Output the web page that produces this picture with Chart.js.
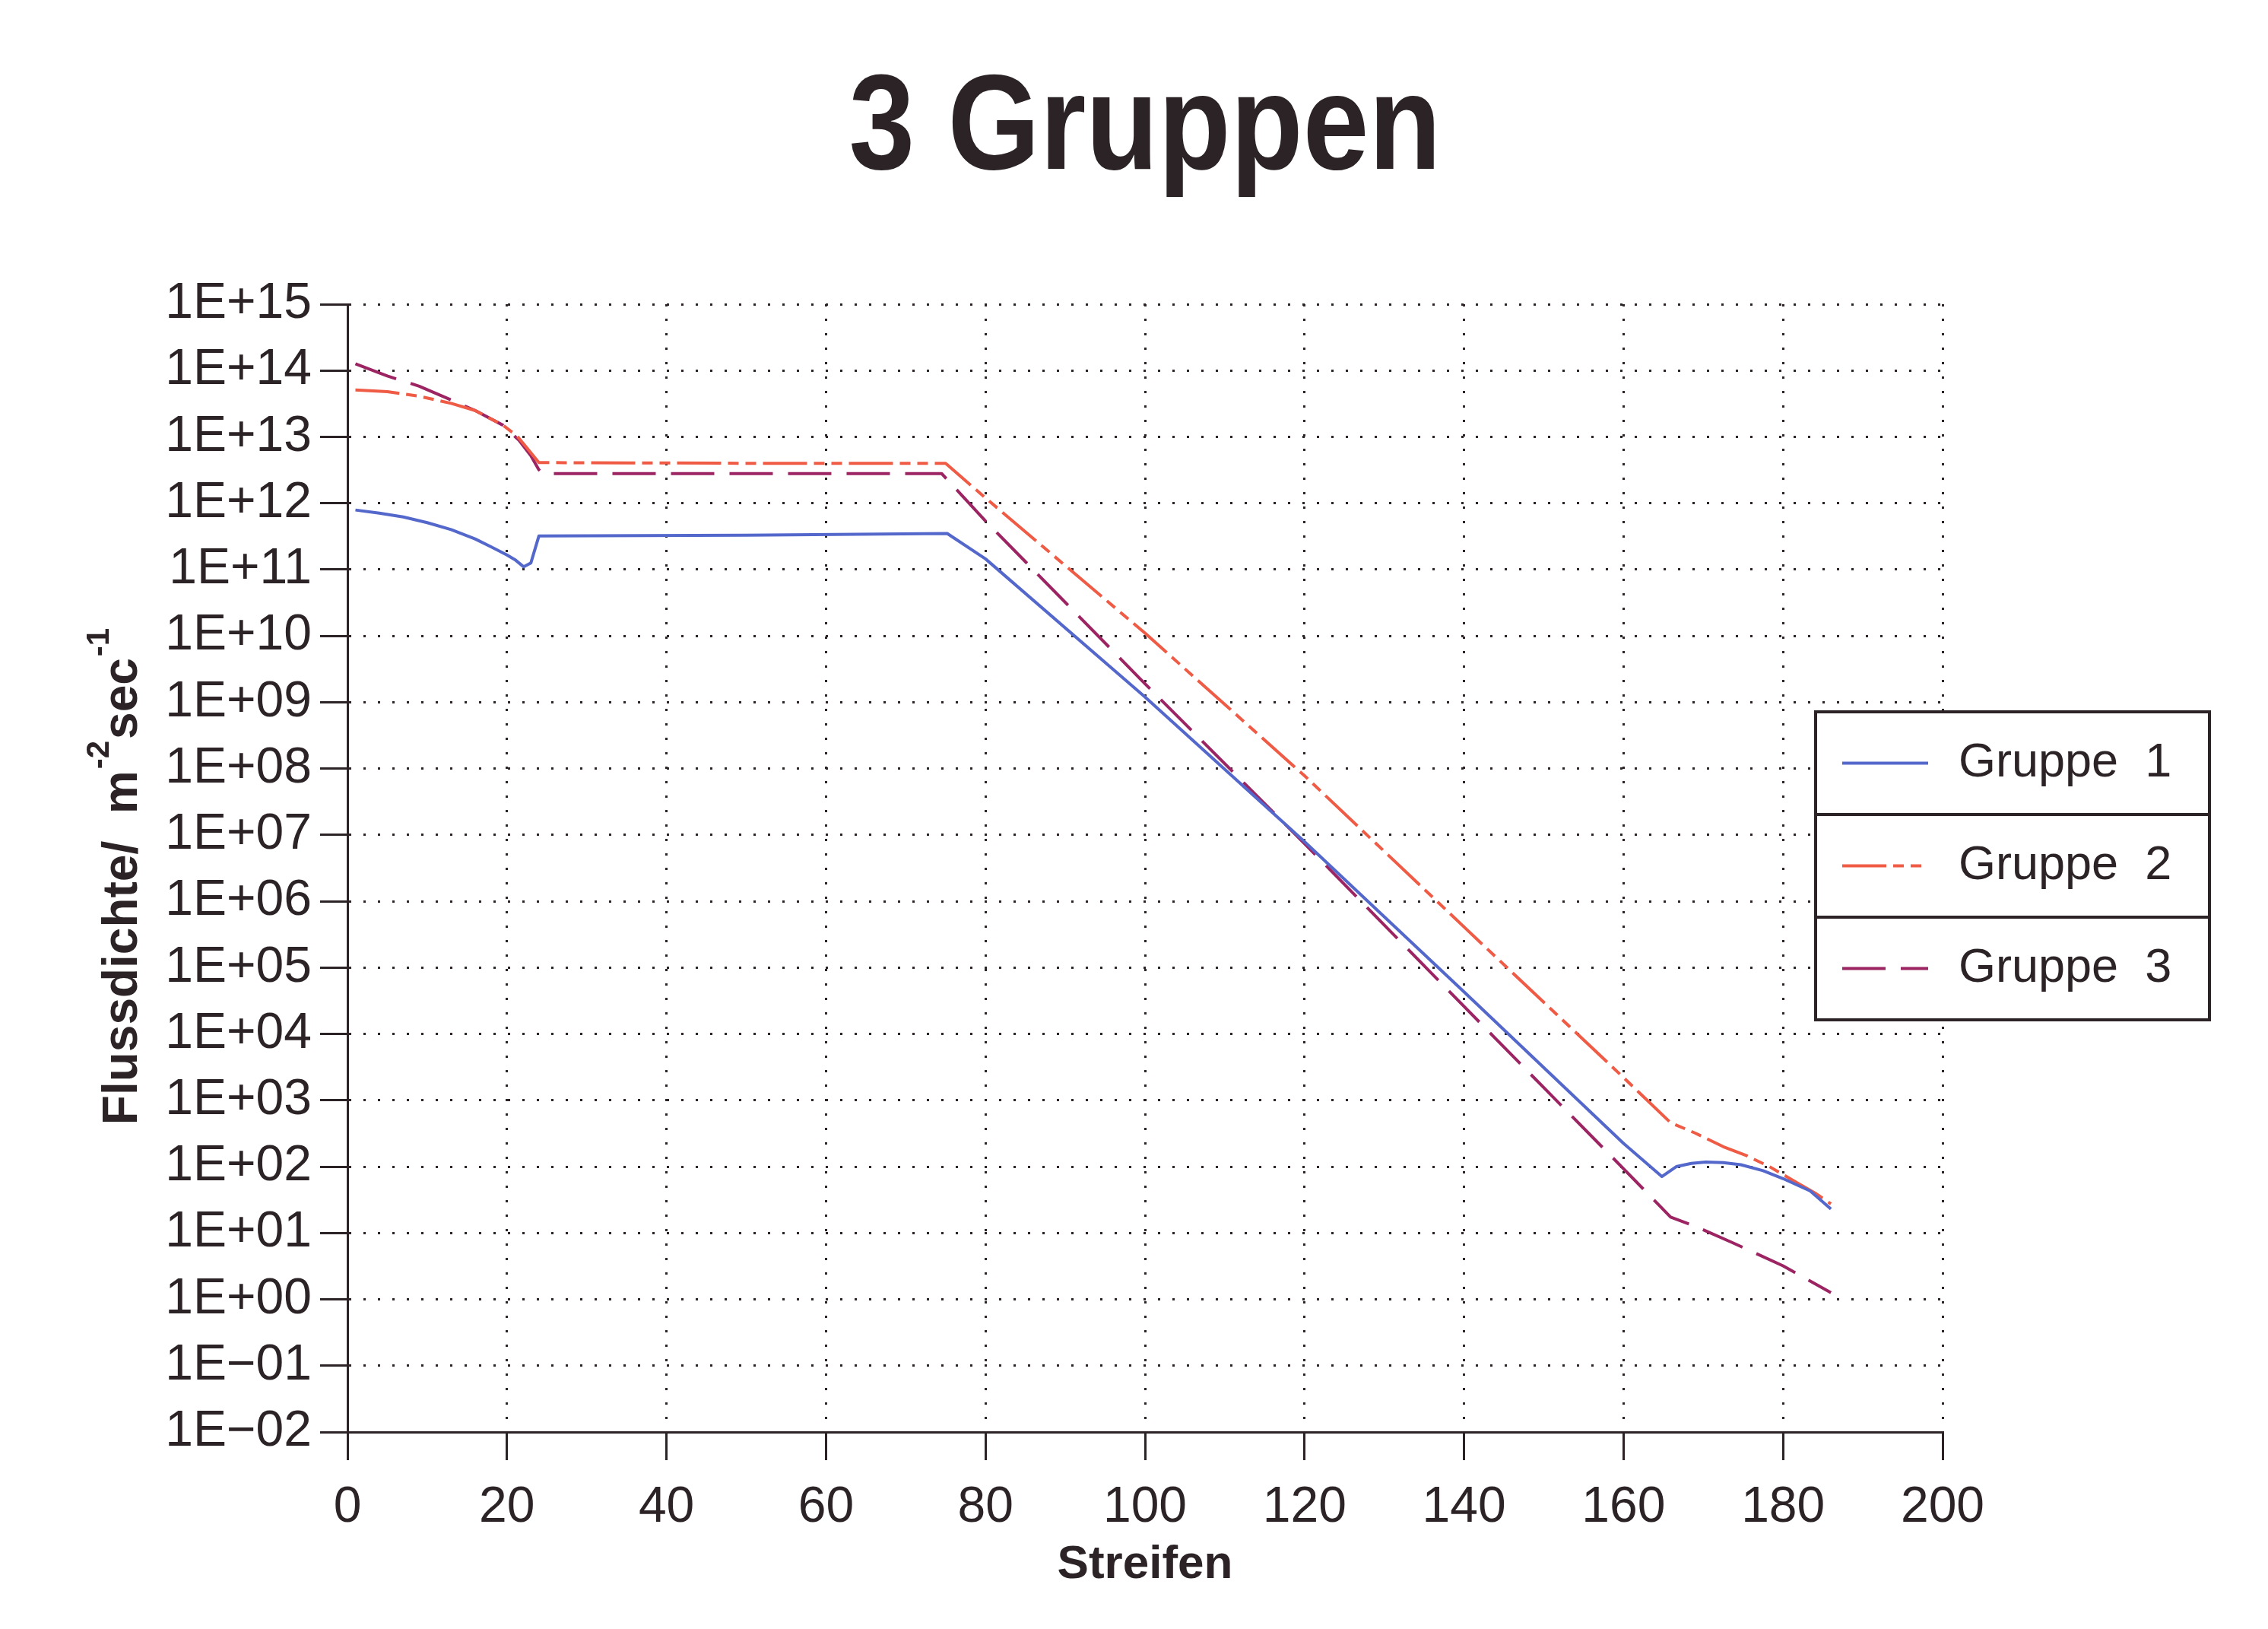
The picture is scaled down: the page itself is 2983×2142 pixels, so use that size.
<!DOCTYPE html>
<html>
<head>
<meta charset="utf-8">
<title>3 Gruppen</title>
<script src="https://cdn.jsdelivr.net/npm/chart.js@4.4.1/dist/chart.umd.min.js"></script>
<style>
  html, body { margin: 0; padding: 0; background: #fff; }
  #chart { display: block; }
</style>
</head>
<body>
<canvas id="chart" width="2983" height="2142"></canvas>
<script>
// values (Streifen on x, Flussdichte in m^-2 sec^-1 on y)
const g1Streifen = [1, 4, 7, 10, 13, 16, 18, 20, 21, 22.1, 23, 24, 50, 75.2, 80, 100, 120, 140, 160, 164.8, 166.6, 168.5, 170.3, 172.5, 174.7, 177.5, 180, 183.4, 186]
const g1Fluss = [7.9e11, 7.1e11, 6.2e11, 5.1e11, 4.0e11, 2.9e11, 2.2e11, 1.66e11, 1.41e11, 1.1e11, 1.26e11, 3.2e11, 3.3e11, 3.5e11, 1.45e11, 1.2e9, 7.9e6, 4.3e4, 224, 71, 100, 112, 117, 115, 107, 87, 66, 43, 23]

const g2Streifen = [1, 5, 9, 13, 16, 19.5, 21.3, 22.6, 24, 50, 75, 80, 100, 120, 140, 160, 165.9, 169, 172.5, 175.5, 178.3, 182, 184, 186]
const g2Fluss = [5.1e13, 4.8e13, 4.1e13, 3.2e13, 2.5e13, 1.5e13, 1.02e13, 6.6e12, 4.1e12, 4.0e12, 4.0e12, 1.2e12, 1.1e10, 7.8e7, 4.1e5, 2.2e3, 460, 320, 200, 145, 100, 55, 40, 27.5]

const g3Streifen = [1, 5, 9, 13, 16, 19.5, 21.5, 23, 24, 24.5, 74.5, 80, 100, 120, 140, 150, 160, 165.9, 168.8, 173.6, 180, 186]
const g3Fluss = [1.26e14, 8.3e13, 5.8e13, 3.6e13, 2.5e13, 1.5e13, 8.9e12, 5.2e12, 3.2e12, 2.8e12, 2.8e12, 5.4e11, 1.9e9, 7.4e6, 2.6e4, 1.55e3, 93, 17.4, 12.9, 7.2, 3.2, 1.26]

const seriesNames = ["Gruppe  1", "Gruppe  2", "Gruppe  3"]
const xTicks = [0, 20, 40, 60, 80, 100, 120, 140, 160, 180, 200]
const yTickValues = [1e-2, 1e-1, 1e0, 1e1, 1e2, 1e3, 1e4, 1e5, 1e6, 1e7, 1e8, 1e9, 1e10, 1e11, 1e12, 1e13, 1e14, 1e15]
const yTickLabels = ["1E\u221202", "1E\u221201", "1E+00", "1E+01", "1E+02", "1E+03", "1E+04", "1E+05", "1E+06", "1E+07", "1E+08", "1E+09", "1E+10", "1E+11", "1E+12", "1E+13", "1E+14", "1E+15"]

// y axis title in pieces: [text, is superscript]
const yTitleParts = [["Flussdichte/  m", false], ["-2", true], ["sec", false], ["-1", true]]

const ink = "#2b2326"
const font = '"Liberation Sans", Arial, sans-serif'

const toPoints = (xs, ys) => xs.map((x, i) => ({ x: x, y: ys[i] }))

// title, y title with real superscripts and the boxed legend
const decor = {
  id: "decor",
  afterDraw(chart) {
    const { ctx, chartArea } = chart
    ctx.save()
    ctx.fillStyle = ink
    ctx.font = "bold 178px " + font
    ctx.textAlign = "center"
    ctx.textBaseline = "alphabetic"
    ctx.translate((chartArea.left + chartArea.right) / 2, 222)
    ctx.scale(0.875, 1)
    ctx.fillText("3 Gruppen", 0, 0)
    ctx.restore()

    // rotated y title
    ctx.save()
    ctx.fillStyle = ink
    ctx.textBaseline = "alphabetic"
    ctx.textAlign = "left"
    const mainFont = "bold 64px " + font
    const supFont = "bold 42px " + font
    let total = 0
    yTitleParts.forEach(([t, sup]) => {
      ctx.font = sup ? supFont : mainFont
      total += ctx.measureText(t).width + (sup ? 4 : 0)
    })
    ctx.translate(159, (chartArea.top + chartArea.bottom) / 2 + 10)
    ctx.rotate(-Math.PI / 2)
    let px = -total / 2
    yTitleParts.forEach(([t, sup]) => {
      ctx.font = sup ? supFont : mainFont
      ctx.fillText(t, px + (sup ? 2 : 0), sup ? -16 : 21)
      px += ctx.measureText(t).width + (sup ? 4 : 0)
    })
    ctx.restore()

    const x0 = chartArea.right - 167
    const y0 = chartArea.top + 536
    const w = 518
    const rowH = 135
    ctx.save()
    ctx.fillStyle = "#fff"
    ctx.fillRect(x0, y0, w, rowH * 3)
    ctx.strokeStyle = ink
    ctx.lineWidth = 4
    ctx.strokeRect(x0, y0, w, rowH * 3)
    chart.data.datasets.forEach((ds, i) => {
      const yc = y0 + rowH * i + rowH / 2
      if (i > 0) {
        ctx.strokeStyle = ink
        ctx.lineWidth = 4
        ctx.setLineDash([])
        ctx.beginPath()
        ctx.moveTo(x0, y0 + rowH * i)
        ctx.lineTo(x0 + w, y0 + rowH * i)
        ctx.stroke()
      }
      ctx.strokeStyle = ds.borderColor
      ctx.lineWidth = ds.borderWidth
      ctx.setLineDash(ds.borderDash || [])
      ctx.beginPath()
      ctx.moveTo(x0 + 35, yc)
      ctx.lineTo(x0 + 148, yc)
      ctx.stroke()
      ctx.setLineDash([])
      ctx.fillStyle = ink
      ctx.font = "63px " + font
      ctx.textAlign = "left"
      ctx.textBaseline = "middle"
      ctx.fillText(ds.label, x0 + 188, yc)
    })
    ctx.restore()
  }
}

const chart = new Chart(document.getElementById("chart"), {
  type: "line",
  data: {
    datasets: [
      {
        label: seriesNames[0],
        data: toPoints(g1Streifen, g1Fluss),
        borderColor: "#5468cc",
        borderWidth: 4,
        borderDash: []
      },
      {
        label: seriesNames[1],
        data: toPoints(g2Streifen, g2Fluss),
        borderColor: "#ef5b45",
        borderWidth: 4,
        borderDash: [58, 9, 14, 9, 14, 9]
      },
      {
        label: seriesNames[2],
        data: toPoints(g3Streifen, g3Fluss),
        borderColor: "#9c2463",
        borderWidth: 4,
        borderDash: [57, 20]
      }
    ]
  },
  options: {
    responsive: false,
    animation: false,
    events: [],
    layout: { padding: { top: 400, right: 428, bottom: 0, left: 0 } },
    elements: {
      point: { radius: 0 },
      line: { tension: 0, fill: false, borderJoinStyle: "round" }
    },
    plugins: {
      legend: { display: false },
      title: { display: false },
      tooltip: { enabled: false }
    },
    scales: {
      x: {
        type: "linear",
        min: 0,
        max: 200,
        afterBuildTicks: (scale) => { scale.ticks = xTicks.map(v => ({ value: v })) },
        afterFit: (scale) => { scale.height = 259 },
        ticks: {
          color: ink,
          font: { family: font, size: 66 },
          padding: 23,
          maxRotation: 0,
          autoSkip: false
        },
        grid: {
          color: ink,
          lineWidth: 3,
          tickLength: 37,
          tickWidth: 3,
          tickColor: ink
        },
        border: { display: true, color: ink, width: 3, dash: [3, 16] },
        title: {
          display: true,
          text: "Streifen",
          color: ink,
          font: { family: font, size: 62, weight: "bold" },
          padding: { top: 0, bottom: 47 }
        }
      },
      y: {
        type: "logarithmic",
        min: 1e-2,
        max: 1e15,
        afterBuildTicks: (scale) => { scale.ticks = yTickValues.map(v => ({ value: v })) },
        afterFit: (scale) => { scale.width = 457 },
        ticks: {
          color: ink,
          font: { family: font, size: 66 },
          padding: 11,
          autoSkip: false,
          callback: (value, index) => yTickLabels[index]
        },
        grid: {
          color: ink,
          lineWidth: 3,
          tickLength: 36,
          tickWidth: 3,
          tickColor: ink
        },
        border: { display: true, color: ink, width: 3, dash: [3, 16] },
        title: { display: false }
      }
    }
  },
  plugins: [decor]
})
</script>
</body>
</html>
